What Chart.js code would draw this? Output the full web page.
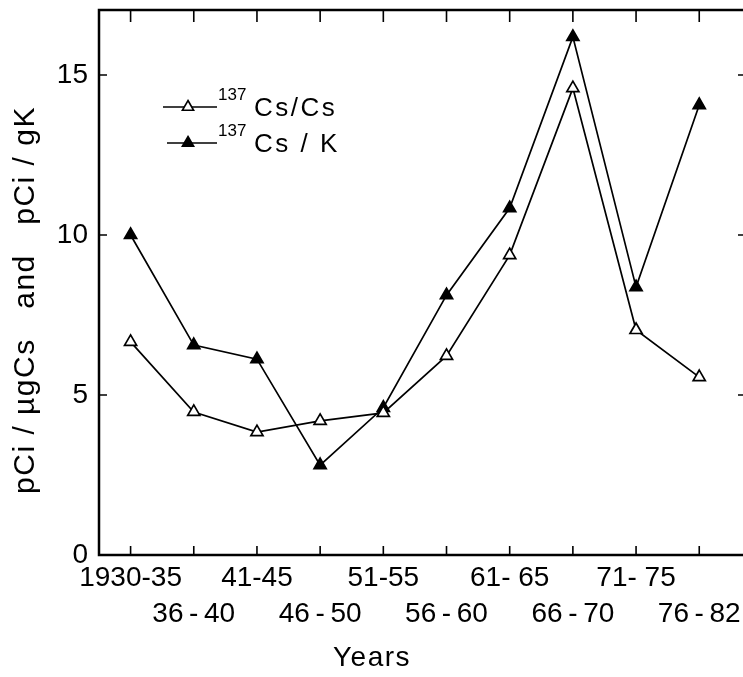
<!DOCTYPE html>
<html>
<head>
<meta charset="utf-8">
<title>137Cs ratios by period</title>
<script src="https://cdn.jsdelivr.net/npm/chart.js@4/dist/chart.umd.min.js"></script>
<style>
    html, body { margin: 0; padding: 0; background: #fff; overflow: hidden; }
    #clip { width: 743px; height: 677px; overflow: hidden; position: relative; }
    #chart { display: block; }
</style>
</head>
<body>
<div id="clip"><canvas id="chart" width="748" height="677"></canvas></div>
<script>
// ---------------------------------------------
//  Data
// ---------------------------------------------
const periods = ['1930-35', '36\u2009-\u200940', '41-45', '46\u2009-\u200950', '51-55', '56\u2009-\u200960', '61- 65', '66\u2009-\u200970', '71- 75', '76\u2009-\u200982'];
const csPerCs = [6.66, 4.47, 3.84, 4.19, 4.44, 6.22, 9.37, 14.59, 7.03, 5.56];
const csPerK = [10.0, 6.56, 6.12, 2.81, 4.6, 8.12, 10.84, 16.19, 8.37, 14.06];
const yTicks = [0, 5, 10, 15];

const FONT = "'Liberation Sans', Arial, sans-serif";

// point objects for the linear x axis
function toPoints(values) {
    return values.map((v, i) => ({ x: i, y: v }));
}

// ---------------------------------------------
//  Frame with inward ticks on all four sides
// ---------------------------------------------
const framePlugin = {
    id: 'frame',
    afterDatasetsDraw(chart) {
        const { ctx, chartArea: a, scales } = chart;
        ctx.save();
        ctx.strokeStyle = '#000';
        ctx.lineWidth = 2.5;
        ctx.strokeRect(a.left, a.top, a.right - a.left, a.bottom - a.top);

        ctx.lineWidth = 1.6;
        ctx.beginPath();
        periods.forEach((p, i) => {
            const x = scales.x.getPixelForValue(i);
            ctx.moveTo(x, a.top);
            ctx.lineTo(x, a.top + 12);
            ctx.moveTo(x, a.bottom);
            ctx.lineTo(x, a.bottom - 9);
        });
        yTicks.forEach(t => {
            const y = scales.y.getPixelForValue(t);
            ctx.moveTo(a.left, y);
            ctx.lineTo(a.left + 8, y);
            ctx.moveTo(a.right, y);
            ctx.lineTo(a.right - 8, y);
        });
        ctx.stroke();
        ctx.restore();
    }
};

// ---------------------------------------------
//  Axis titles and legend with superscripts
// ---------------------------------------------
const textPlugin = {
    id: 'texts',
    afterDraw(chart) {
        const ctx = chart.ctx;
        ctx.save();
        ctx.fillStyle = '#000';

        // x title
        ctx.font = '28px ' + FONT;
        ctx.letterSpacing = '1.5px';
        ctx.textAlign = 'center';
        ctx.textBaseline = 'middle';
        ctx.fillText('Years', 372, 658);

        // y title
        ctx.save();
        ctx.translate(26, 300);
        ctx.rotate(-Math.PI / 2);
        ctx.font = '30px ' + FONT;
        ctx.letterSpacing = '1.5px';
        ctx.fillText('pCi / µgCs   and   pCi / gK', 0, 0);
        ctx.restore();

        // legend
        const rows = [
            { ds: 0, y: 107, x0: 163, text: 'Cs/Cs' },
            { ds: 1, y: 143, x0: 167, text: 'Cs / K' }
        ];
        rows.forEach(r => {
            const d = chart.data.datasets[r.ds];
            ctx.strokeStyle = '#000';
            ctx.lineWidth = 1.6;
            ctx.beginPath();
            ctx.moveTo(r.x0, r.y);
            ctx.lineTo(217, r.y);
            ctx.stroke();
            const pt = {
                pointStyle: 'triangle', radius: 6.5, rotation: 0, borderWidth: 1.6
            };
            ctx.fillStyle = d.pointBackgroundColor;
            ctx.strokeStyle = '#000';
            Chart.helpers.drawPoint(ctx, pt, 188, r.y);

            ctx.fillStyle = '#000';
            ctx.textAlign = 'left';
            ctx.textBaseline = 'alphabetic';
            ctx.font = '17px ' + FONT;
            ctx.letterSpacing = '0px';
            ctx.fillText('137', 218, r.y - 7);
            ctx.font = '26px ' + FONT;
            ctx.letterSpacing = '2.5px';
            ctx.fillText(r.text, 254, r.y + 9);
        });
        ctx.restore();
    }
};

// ---------------------------------------------
//  Chart
// ---------------------------------------------
new Chart(document.getElementById('chart'), {
    type: 'line',
    data: {
        datasets: [
            {
                label: '137Cs/Cs',
                data: toPoints(csPerCs),
                borderColor: '#000',
                borderWidth: 1.7,
                pointStyle: 'triangle',
                pointRadius: 7,
                pointBorderWidth: 1.7,
                pointBackgroundColor: '#fff',
                pointBorderColor: '#000',
                tension: 0
            },
            {
                label: '137Cs/K',
                data: toPoints(csPerK),
                borderColor: '#000',
                borderWidth: 1.7,
                pointStyle: 'triangle',
                pointRadius: 7,
                pointBorderWidth: 1.7,
                pointBackgroundColor: '#000',
                pointBorderColor: '#000',
                tension: 0
            }
        ]
    },
    options: {
        responsive: false,
        animation: false,
        devicePixelRatio: 1,
        layout: { autoPadding: false, padding: { top: 10, right: 2, left: 0, bottom: 0 } },
        plugins: {
            legend: { display: false },
            tooltip: { enabled: false }
        },
        scales: {
            x: {
                type: 'linear',
                position: 'bottom',
                min: -0.5,
                max: 9.74,
                grid: { display: false, drawTicks: false },
                border: { display: false },
                afterBuildTicks: scale => {
                    scale.ticks = periods.map((p, i) => ({ value: i }));
                },
                afterFit: scale => {
                    scale.height = 122;
                    scale.paddingLeft = 0;
                    scale.paddingRight = 0;
                },
                ticks: {
                    autoSkip: false,
                    maxRotation: 0,
                    minRotation: 0,
                    padding: 5,
                    color: '#000',
                    font: { family: FONT, size: 28, lineHeight: 1.29 },
                    callback: value => {
                        const i = Math.round(value);
                        return i % 2 === 0 ? periods[i] : ['', periods[i]];
                    }
                }
            },
            y: {
                min: 0,
                max: 17.03,
                grid: { display: false, drawTicks: false },
                border: { display: false },
                afterBuildTicks: scale => {
                    scale.ticks = yTicks.map(v => ({ value: v }));
                },
                afterFit: scale => {
                    scale.width = 99;
                    scale.paddingTop = 0;
                    scale.paddingBottom = 0;
                },
                ticks: {
                    padding: 11,
                    color: '#000',
                    font: { family: FONT, size: 28 }
                }
            }
        }
    },
    plugins: [framePlugin, textPlugin]
});
</script>
</body>
</html>
